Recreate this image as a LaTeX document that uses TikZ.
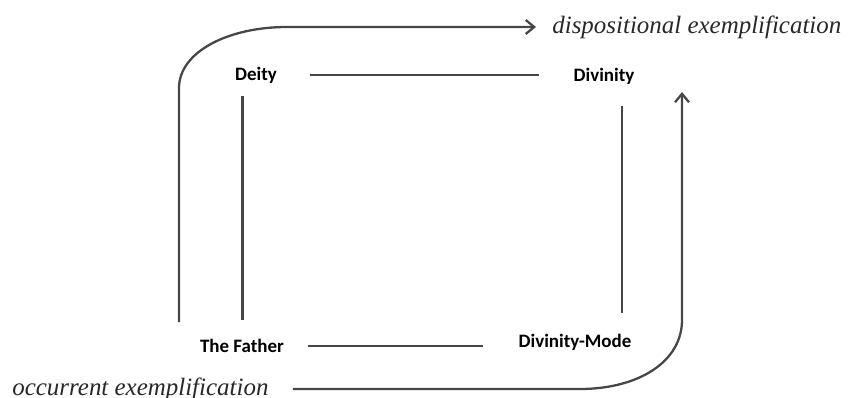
\documentclass[tikz,border=0pt]{standalone}
\usepackage{fontspec}
\setsansfont{Carlito}
\newfontfamily\exfont{Liberation Serif}
\usetikzlibrary{
  arrows.meta,
  positioning,  % relative placement
}
\definecolor{linegray}{RGB}{70,70,70}
\definecolor{textgray}{RGB}{40,40,40}
\def\myhgap{6.6mm}
\def\myhgapb{6.8mm}
\def\myvgap{3mm}
\tikzset{
  >={Straight Barb[length=1.7mm,width=2.8mm]},
  my term/.style={
    font=\sffamily\bfseries\fontsize{10.8}{13}\selectfont,
    inner sep=0mm
  },
  my mode/.style={
    font=\exfont\itshape\fontsize{14.2}{16}\selectfont,
    text=textgray,
    inner sep=0mm
  },
  my link/.style={
    draw=linegray,
    line width=1.3pt
  },
  my flow/.style={
    my link,
    ->
  }
}
\begin{document}
\begin{tikzpicture}[x=0.02cm,y=-0.02cm]
\useasboundingbox (0,0) rectangle (861,398);
% the four terms
\node[my term] (deity)    at (256,75)  {Deity};
\node[my term] (divinity) at (604,76)  {Divinity};
\node[my term] (father)   at (242,346) {The Father};
\node[my term] (mode)     at (575,342) {Divinity-Mode};
% the two kinds of exemplification
\node[my mode,anchor=west] (disp) at (552,27)  {dispositional exemplification};
\node[my mode,anchor=west] (occ)  at (12,389)  {occurrent exemplification};
\coordinate (dispstart) at (179,322);
\coordinate (occend)    at (682,92);
% square
\path[my link]
  (deity.east) edge[shorten <=\myhgap,shorten >=\myhgapb] (deity.east -| divinity.west)
  (father.east) edge[shorten <=4.8mm,shorten >=7mm] (father.east -| mode.west)
  ([xshift=0.1mm]father.north) edge[shorten <=3.8mm,shorten >=2.6mm] ([xshift=0.1mm]father.north |- deity.south)
  ([xshift=3.6mm]divinity.south) edge[shorten <=4.4mm,shorten >=4.2mm] ([xshift=3.6mm]divinity.south |- mode.north);
% outer arrows
\draw[my flow,shorten >=3.2mm] (dispstart) -- (179,88)
  .. controls (179,52) and (228,27) .. (287,27) -- (disp.west);
\draw[my flow,shorten <=4.8mm] (occ.east) -- (580,389)
  .. controls (638,389) and (682,362) .. (682,320) -- (occend);
\end{tikzpicture}
\end{document}
